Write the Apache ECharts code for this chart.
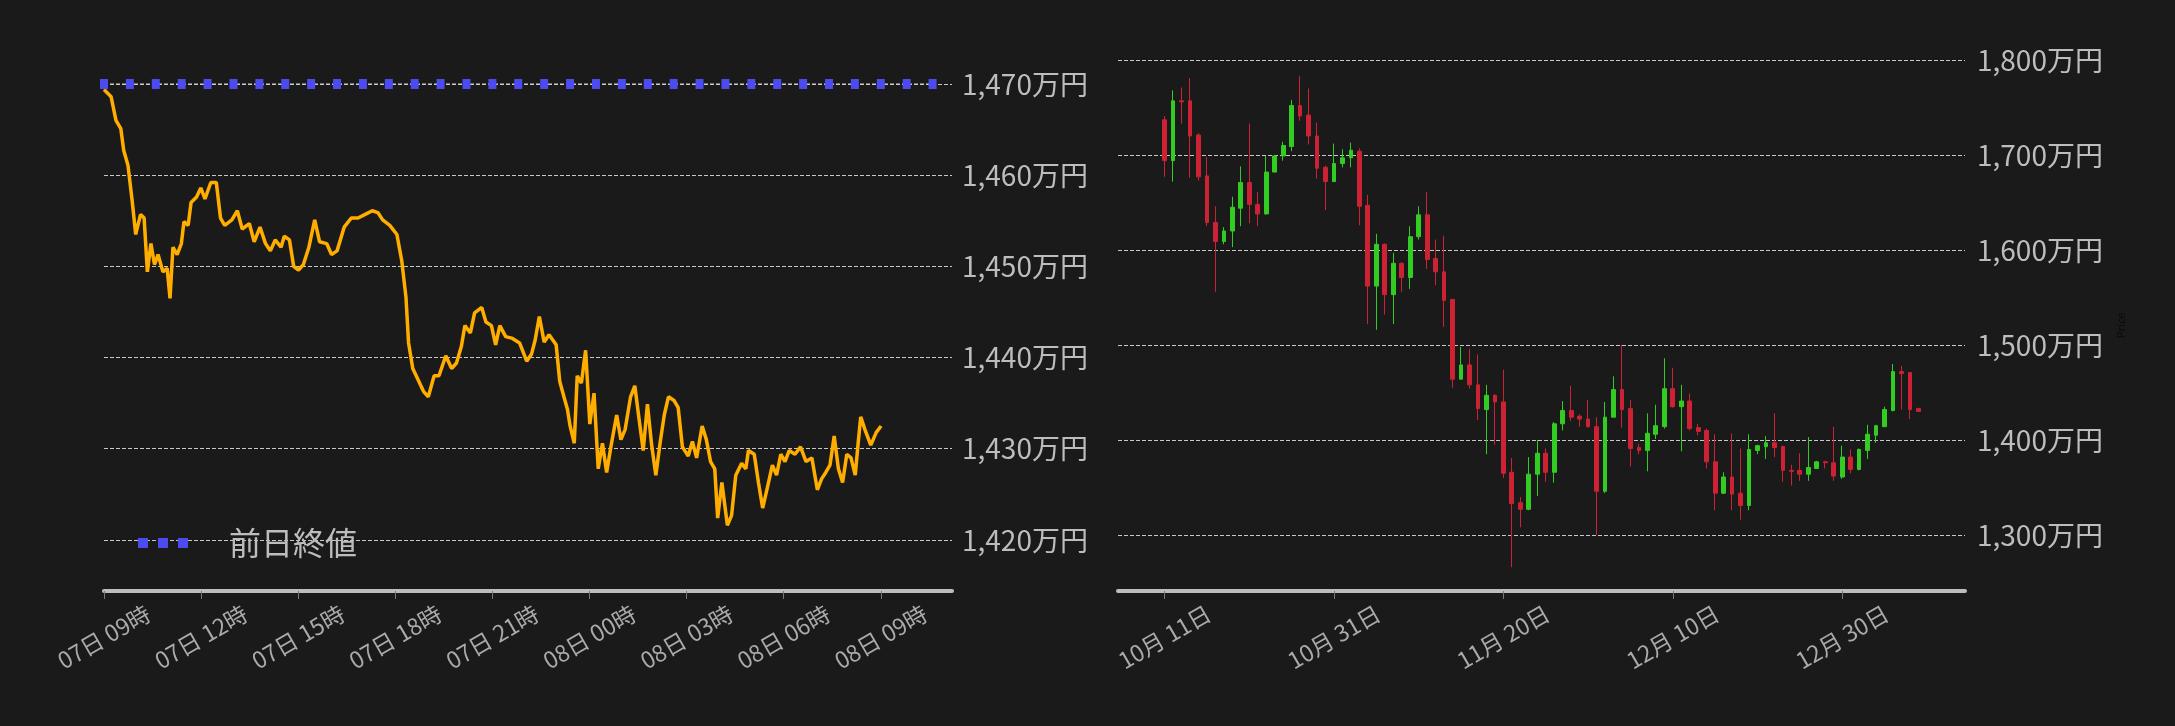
<!DOCTYPE html>
<html><head><meta charset="utf-8">
<script src="https://cdn.jsdelivr.net/npm/echarts@6/dist/echarts.min.js"></script>
<style>html,body{margin:0;padding:0;background:#1a1a1a}#c{width:2175px;height:726px}</style>
</head><body><div id="c"></div>
<script>
// Intraday (hours since 07日 09時)
const hours = [0,0.22,0.37,0.52,0.61,0.74,0.87,0.98,1.13,1.24,1.34,1.45,1.56,1.67,1.82,1.95,2.04,2.13,2.26,2.39,2.47,2.60,2.69,2.86,2.99,3.12,3.30,3.47,3.60,3.73,3.95,4.12,4.27,4.49,4.64,4.82,4.99,5.14,5.29,5.47,5.57,5.73,5.86,6.01,6.16,6.33,6.51,6.66,6.88,7.03,7.20,7.42,7.64,7.85,8.07,8.29,8.46,8.61,8.83,9.05,9.20,9.33,9.41,9.54,9.70,9.87,10.02,10.20,10.35,10.56,10.74,10.89,11.04,11.15,11.32,11.45,11.67,11.80,11.97,12.10,12.23,12.41,12.62,12.84,13.06,13.21,13.32,13.45,13.60,13.75,13.97,14.08,14.21,14.32,14.40,14.53,14.62,14.75,14.88,15.01,15.14,15.27,15.40,15.53,15.66,15.84,15.97,16.10,16.27,16.40,16.53,16.66,16.79,16.92,17.05,17.18,17.31,17.44,17.61,17.74,17.87,18.05,18.18,18.31,18.48,18.61,18.74,18.87,18.96,19.09,19.26,19.39,19.52,19.70,19.83,19.91,20.09,20.22,20.35,20.48,20.65,20.78,20.91,21.04,21.17,21.35,21.52,21.69,21.87,22.04,22.17,22.30,22.43,22.56,22.69,22.82,22.95,23.08,23.21,23.30,23.38,23.51,23.69,23.86,24.01];
const prices = [1469.4,1468.6,1466.0,1465.1,1462.7,1461.1,1457.2,1453.5,1455.7,1455.3,1449.4,1452.5,1450.2,1451.3,1449.4,1449.8,1446.5,1452.1,1451.3,1452.5,1454.9,1454.5,1457.0,1457.6,1458.6,1457.4,1459.2,1459.2,1455.3,1454.5,1455.1,1456.1,1454.1,1454.7,1452.7,1454.3,1452.5,1451.7,1452.9,1452.1,1453.3,1452.9,1450.0,1449.6,1450.2,1452.1,1455.1,1452.7,1452.5,1451.3,1451.7,1454.3,1455.3,1455.3,1455.7,1456.1,1455.9,1455.1,1454.5,1453.5,1450.6,1446.6,1441.6,1438.8,1437.6,1436.3,1435.7,1438.0,1438.0,1440.2,1438.8,1439.4,1441.2,1443.5,1442.7,1444.9,1445.5,1443.9,1443.5,1441.4,1443.5,1442.3,1442.1,1441.6,1439.6,1440.4,1441.9,1444.5,1441.7,1442.5,1441.4,1437.4,1435.7,1434.3,1432.5,1430.6,1438.0,1437.2,1440.8,1432.7,1436.1,1427.8,1430.6,1427.4,1430.2,1433.7,1431.0,1432.1,1435.7,1436.9,1433.3,1429.8,1434.9,1430.4,1427.1,1430.6,1433.7,1435.7,1435.3,1434.5,1430.2,1429.2,1430.8,1429.0,1432.5,1431.0,1428.6,1427.8,1422.4,1426.3,1421.6,1422.7,1427.1,1428.4,1427.8,1429.8,1429.4,1426.3,1423.5,1425.5,1428.2,1427.1,1429.4,1428.6,1429.8,1429.4,1430.2,1428.6,1429.0,1425.5,1426.7,1427.4,1428.2,1431.4,1427.8,1426.3,1429.4,1429.0,1427.1,1430.6,1433.5,1432.1,1430.4,1431.8,1432.5];
const prevClose = 1470;
const prevCloseHours = [0,0.8,1.6,2.4,3.2,4.0,4.8,5.6,6.4,7.2,8.0,8.8,9.6,10.4,11.2,12.0,12.8,13.6,14.4,15.2,16.0,16.8,17.6,18.4,19.2,20.0,20.8,21.6,22.4,23.2,24.0,24.8,25.6];
const leftTicks = [1420,1430,1440,1450,1460,1470];
// Daily OHLC [open, close, low, high] from 10/11
const firstDay = '2024-10-11';
const ohlc = [[1737,1694,1677,1741],[1694,1757,1672,1768],[1757,1756,1733,1771],[1757,1720,1676,1781],[1721,1677,1673,1723],[1678,1629,1625,1698],[1629,1609,1556,1646],[1609,1620,1606,1624],[1620,1645,1603,1656],[1644,1671,1625,1688],[1671,1648,1628,1733],[1648,1638,1625,1661],[1638,1682,1637,1699],[1682,1699,1682,1700],[1699,1710,1694,1714],[1709,1752,1704,1758],[1752,1741,1736,1783],[1742,1720,1711,1770],[1720,1686,1675,1734],[1687,1672,1642,1689],[1672,1691,1672,1712],[1691,1697,1687,1706],[1697,1705,1687,1713],[1704,1646,1626,1707],[1647,1562,1522,1658],[1562,1606,1516,1617],[1606,1553,1532,1607],[1553,1586,1522,1597],[1586,1571,1556,1587],[1571,1614,1559,1625],[1614,1637,1611,1646],[1637,1590,1580,1661],[1591,1577,1563,1611],[1577,1547,1519,1615],[1548,1464,1455,1548],[1464,1479,1464,1498],[1479,1458,1454,1496],[1458,1433,1421,1490],[1432,1447,1385,1458],[1447,1440,1395,1448],[1440,1365,1360,1474],[1366,1333,1266,1381],[1334,1327,1308,1340],[1327,1364,1326,1382],[1364,1386,1341,1400],[1386,1366,1356,1391],[1366,1417,1355,1419],[1417,1431,1410,1441],[1431,1424,1420,1457],[1425,1422,1414,1427],[1422,1414,1413,1442],[1414,1346,1300,1424],[1346,1424,1344,1440],[1424,1453,1424,1467],[1453,1432,1413,1500],[1433,1391,1372,1442],[1392,1389,1385,1396],[1389,1407,1367,1428],[1406,1415,1401,1437],[1414,1454,1412,1486],[1454,1435,1434,1476],[1435,1441,1388,1458],[1441,1412,1410,1449],[1413,1409,1405,1417],[1410,1377,1370,1412],[1377,1344,1326,1406],[1344,1361,1343,1366],[1361,1343,1326,1407],[1344,1331,1316,1391],[1331,1390,1326,1406],[1389,1394,1385,1395],[1393,1397,1380,1404],[1397,1392,1382,1428],[1393,1368,1356,1394],[1368,1367,1352,1374],[1368,1364,1357,1386],[1364,1371,1357,1403],[1370,1377,1370,1378],[1377,1376,1370,1378],[1376,1362,1357,1414],[1361,1382,1359,1394],[1382,1369,1365,1390],[1369,1390,1368,1391],[1389,1406,1380,1416],[1405,1415,1397,1416],[1414,1432,1414,1435],[1431,1472,1430,1480],[1472,1470,1432,1478],[1471,1432,1422,1471],[1433,1430,1430,1434]];
const rightTicks = [1300,1400,1500,1600,1700,1800];
const rightLabelDays = ['10-11','10-31','11-20','12-10','12-30'];
const padDays = 5;

const cats = [];
const start = new Date(firstDay + 'T00:00:00Z');
for (let i = -padDays; i < ohlc.length + padDays; i++) {
  const d = new Date(start.getTime() + i * 86400000);
  cats.push(String(d.getUTCMonth() + 1).padStart(2,'0') + '-' + String(d.getUTCDate()).padStart(2,'0'));
}
const candleData = cats.map((c, i) => {
  const k = i - padDays;
  return (k >= 0 && k < ohlc.length) ? ohlc[k] : '-';
});
const isLabelDay = (idx) => rightLabelDays.indexOf(cats[idx]) >= 0;

const yen = v => v.toLocaleString('en-US') + '万円';
const pad = n => String(n).padStart(2,'0');
const hourLabel = h => { const t = 9 + h; return pad(7 + Math.floor(t/24)) + '日 ' + pad(t % 24) + '時'; };

const F = '"Noto Sans CJK JP", "Noto Sans", sans-serif';
const xLab = { rotate: 30, color: '#aaaaaa', fontSize: 23, margin: 46, align: 'center', verticalAlign: 'middle' };
const chart = echarts.init(document.getElementById('c'));
chart.setOption({
  backgroundColor: '#1a1a1a',
  animation: false,
  textStyle: { fontFamily: F },
  legend: {
    data: ['前日終値'], left: 133, top: 522,
    icon: 'path://M0,0h2v2h-2z M4,0h2v2h-2z M8,0h2v2h-2z',
    itemWidth: 62, itemHeight: 10,
    textStyle: { color: '#bdbdbd', fontSize: 32, padding: [0,0,0,30] }
  },
  grid: [
    { left: 104, right: 1223, top: 84, bottom: 135 },
    { left: 1118, right: 210, top: 60, bottom: 135 }
  ],
  xAxis: [
    { type: 'value', gridIndex: 0, min: 0, max: 26.2, interval: 3,
      splitLine: { show: false },
      axisLine: { show: true, lineStyle: { color: '#bdbdbd', width: 4 } },
      axisTick: { show: true, length: 8, lineStyle: { color: '#777' } },
      axisLabel: Object.assign({ showMaxLabel: false, formatter: v => hourLabel(v) }, xLab) },
    { type: 'category', gridIndex: 1, data: cats, boundaryGap: true,
      axisLine: { show: true, lineStyle: { color: '#bdbdbd', width: 4 } },
      axisTick: { show: true, alignWithLabel: true, length: 8, interval: idx => isLabelDay(idx), lineStyle: { color: '#777' } },
      axisLabel: Object.assign({ interval: idx => isLabelDay(idx),
        formatter: v => { const p = v.split('-'); return p[0] + '月 ' + p[1] + '日'; } }, xLab) }
  ],
  yAxis: [
    { type: 'value', gridIndex: 0, position: 'right', min: 1414.4, max: 1470,
      axisLine: { show: false },
      axisTick: { show: false, customValues: leftTicks },
      splitLine: { show: true, lineStyle: { color: '#c8c8c8', type: 'dashed', width: 1 } },
      axisLabel: { customValues: leftTicks, color: '#bdbdbd', fontSize: 28, margin: 10, formatter: yen } },
    { type: 'value', gridIndex: 1, position: 'right', min: 1241, max: 1800,
      name: 'Price', nameLocation: 'middle', nameRotate: 90, nameGap: 150,
      nameTextStyle: { color: '#0a0a0a', fontSize: 11 },
      axisLine: { show: false },
      axisTick: { show: false, customValues: rightTicks },
      splitLine: { show: true, lineStyle: { color: '#c8c8c8', type: 'dashed', width: 1 } },
      axisLabel: { customValues: rightTicks, color: '#bdbdbd', fontSize: 28, margin: 12, formatter: yen } }
  ],
  series: [
    { name: 'price', type: 'line', xAxisIndex: 0, yAxisIndex: 0, showSymbol: false, symbol: 'none',
      data: hours.map((h, i) => [h, prices[i]]),
      lineStyle: { color: '#ffae00', width: 3.5 }, itemStyle: { color: '#ffae00' } },
    { name: '前日終値', type: 'line', xAxisIndex: 0, yAxisIndex: 0, clip: false,
      data: prevCloseHours.map(h => [h, prevClose]),
      symbol: 'rect', symbolSize: [8, 10], showAllSymbol: true,
      lineStyle: { color: '#cfcfcf', width: 1, type: 'dashed' },
      itemStyle: { color: '#4b4bf0' } },
    { name: 'daily', type: 'candlestick', xAxisIndex: 1, yAxisIndex: 1, data: candleData,
      barMaxWidth: 7,
      itemStyle: { color: '#33cc22', color0: '#cc2233', borderColor: '#33cc22', borderColor0: '#cc2233', borderWidth: 1 } }
  ]
});
</script></body></html>
